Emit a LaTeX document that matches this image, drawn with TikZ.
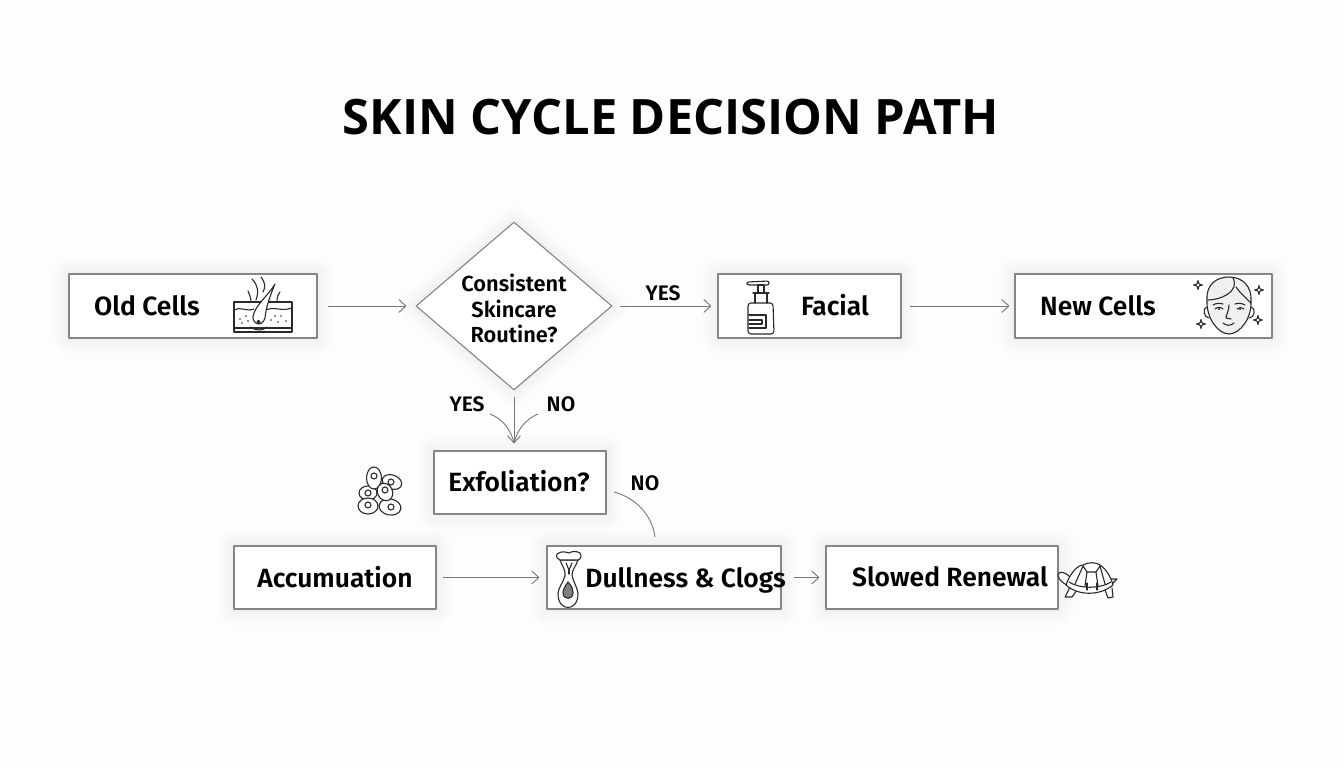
\documentclass[tikz,border=0pt]{standalone}
\usepackage{fontspec}
\usepackage{xcolor}
\usepackage{tikz}
\usetikzlibrary{arrows.meta,shapes.geometric}
\setmainfont{Fira Sans}[BoldFont={Fira Sans SemiBold}]
\newfontfamily\titlefont{Open Sans}
\definecolor{pagetint}{HTML}{FDFDFD}
\definecolor{boxline}{HTML}{858585}
\definecolor{arrowline}{HTML}{777777}
\definecolor{inkline}{HTML}{2A2A2A}
\tikzset{
    glow/.style={preaction={draw=black,opacity=0.005,line width=34pt},preaction={draw=black,opacity=0.006,line width=28pt},preaction={draw=black,opacity=0.007,line width=22pt},preaction={draw=black,opacity=0.008,line width=16pt},preaction={draw=black,opacity=0.009,line width=10pt},preaction={draw=black,opacity=0.01,line width=5pt}},
    boxnode/.style={draw=boxline,line width=1.1pt,fill=white,rectangle,minimum height=64pt,inner sep=0pt,line join=round,glow},
    decisionnode/.style={draw=boxline,line width=1.1pt,fill=white,diamond,minimum width=196pt,minimum height=168pt,inner sep=0pt,aspect=1.17,line join=round,glow},
    textnode/.style={inner sep=0pt,text height=18pt,text depth=0pt,font=\fontsize{26.4}{30}\selectfont\bfseries},
    routinetext/.style={inner sep=0pt,align=center,font=\fontsize{21.8}{25.5}\selectfont\bfseries},
    smalltext/.style={inner sep=0pt,text height=14pt,text depth=0pt,font=\fontsize{21}{24}\selectfont\bfseries},
    arr/.style={draw=arrowline,line width=0.9pt,-{Straight Barb[length=7pt,width=13pt]}},
    plainline/.style={draw=arrowline,line width=0.9pt},
    iconline/.style={draw=inkline,line width=1.1pt,line cap=round,line join=round},
    sparkle/.pic={\draw[iconline,fill=white] (0,-4.5) .. controls (0.6,-1) and (1,-0.6) .. (4.5,0) .. controls (1,0.6) and (0.6,1) .. (0,4.5) .. controls (-0.6,1) and (-1,0.6) .. (-4.5,0) .. controls (-1,-0.6) and (-0.6,-1) .. (0,-4.5) -- cycle;},
}
\begin{document}
\begin{tikzpicture}[x=1pt,y=-1pt]
    \useasboundingbox[fill=pagetint] (0,0) rectangle (1344,768);
    \node[inner sep=0pt,font=\titlefont\fontsize{48.8}{55}\selectfont\bfseries] (title) at (671,117) {SKIN CYCLE DECISION PATH};
    % boxes
    \node[boxnode,minimum width=248pt] (oldcells) at (193,306) {};
    \node[decisionnode] (routine) at (514,306) {};
    \node[boxnode,minimum width=183pt] (facial) at (809.5,306) {};
    \node[boxnode,minimum width=257pt] (newcells) at (1143.5,306) {};
    \node[boxnode,minimum width=172pt,minimum height=63pt] (exfoliation) at (520,482.5) {};
    \node[boxnode,minimum width=202pt,minimum height=63pt] (accumulation) at (335,577.5) {};
    \node[boxnode,minimum width=234pt,minimum height=63pt] (dullness) at (664,577.5) {};
    \node[boxnode,minimum width=232pt,minimum height=63pt] (renewal) at (942,577.5) {};
    % box texts
    \node[textnode] (oldtext) at (147,306) {Old Cells};
    \node[routinetext] (routinelabel) at (514,308.5) {Consistent\\Skincare\\Routine?};
    \node[textnode] (facialtext) at (835,306) {Facial};
    \node[textnode] (newtext) at (1098,306) {New Cells};
    \node[textnode] (exfoliationtext) at (519,482) {Exfoliation?};
    \node[textnode] (accumulationtext) at (335,578) {Accumuation};
    \node[textnode] (dullnesstext) at (685.5,578) {Dullness \& Clogs};
    \node[textnode] (renewaltext) at (950,577) {Slowed Renewal};
    % yes and no
    \node[smalltext] (yesright) at (663,293) {YES};
    \node[smalltext] (yesdown) at (467,404) {YES};
    \node[smalltext] (nodown) at (561,404) {NO};
    \node[smalltext] (noexfoliation) at (645,483) {NO};
    % connectors
    \coordinate (yesstart) at (490,414);
    \coordinate (nostart) at (538,414);
    \coordinate (meet) at (514,443);
    \coordinate (nostartb) at (614,492);
    \coordinate (noend) at (655,537);
    \draw[arr,shorten <=10pt,shorten >=9pt] (oldcells) -- (routine);
    \draw[arr,shorten <=7pt,shorten >=6pt] (routine) -- (facial);
    \draw[arr,shorten <=8pt,shorten >=5pt] (facial) -- (newcells);
    \draw[arr,shorten <=6pt,shorten >=7pt] (routine) -- (exfoliation.north -| routine);
    \draw[plainline] (yesstart) .. controls (503,419) and (511,430) .. (meet);
    \draw[plainline] (nostart) .. controls (526,419) and (517,430) .. (meet);
    \draw[plainline] (nostartb) .. controls (636,498) and (652,515) .. (noend);
    \draw[arr,shorten <=6pt,shorten >=7pt] (accumulation) -- (dullness);
    \draw[arr,shorten <=12pt,shorten >=6pt] (dullness) -- (renewal);
    % skin icon
    \draw[iconline] (234,302) rectangle (292,332);
    \draw[iconline] (234,328) -- (292,328);
    \draw[iconline] (234,310) .. controls (240,306) and (246,312) .. (254,309);
    \draw[iconline] (266,310) .. controls (274,306) and (282,312) .. (292,308);
    \draw[iconline] (251,302) .. controls (251,297) and (249,294) .. (248,291);
    \draw[iconline] (256,300) .. controls (259,292) and (258,285) .. (252,279);
    \draw[iconline] (263,292) .. controls (266,287) and (265,282) .. (261,277);
    \draw[iconline] (277,302) .. controls (277,297) and (278,294) .. (280,292);
    \draw[iconline,fill=white] (275,284) .. controls (268,296) and (256,304) .. (253,316) .. controls (252,324) and (262,328) .. (265,318) .. controls (266,307) and (270,296) .. (275,284) -- cycle;
    \fill[inkline] (258.5,322) circle (2pt);
    \draw[iconline] (251,327) .. controls (255,331) and (263,331) .. (267,327);
    \foreach \px/\py in {240/319,246/316,242/323,248/321,275/316,281/316,271/320,278/322,286/321}
        \fill[inkline] (\px,\py) circle (0.9pt);
    % bottle icon
    \draw[iconline,fill=white,rounded corners=3pt] (748,303) -- (773,303) -- (774,334) -- (748,334) -- cycle;
    \draw[iconline] (755,303) -- (755,293) -- (767,293) -- (767,303);
    \draw[iconline] (753,293) -- (769,293);
    \draw[iconline] (758,293) -- (758,285) -- (764,285) -- (764,293);
    \draw[iconline,rounded corners=2pt] (747,285) -- (747,282) -- (769,281) -- (769,285) -- cycle;
    \draw[iconline] (749,315) -- (766,315) -- (766,328) -- (749,328);
    \draw[iconline] (749,320) -- (762,320) -- (762,324) -- (749,324);
    % face icon
    \draw[iconline] (1207,307) .. controls (1202,308) and (1204,318) .. (1209,318);
    \draw[iconline] (1251,307) .. controls (1256,308) and (1255,318) .. (1249,318);
    \draw[iconline,fill=white!94!black] (1207,300) .. controls (1206,285) and (1216,277) .. (1229,277) .. controls (1243,277) and (1252,287) .. (1251,301) .. controls (1252,318) and (1240,334) .. (1229,334) .. controls (1218,334) and (1206,318) .. (1207,300) -- cycle;
    \draw[iconline] (1208,300) .. controls (1220,300) and (1240,292) .. (1233,278);
    \draw[iconline] (1236,287) .. controls (1240,293) and (1246,298) .. (1251,303);
    \draw[iconline] (1213,305) .. controls (1216,303) and (1220,303) .. (1223,304);
    \draw[iconline] (1235,304) .. controls (1238,303) and (1242,303) .. (1245,305);
    \draw[iconline] (1215,309) .. controls (1217,307) and (1221,307) .. (1223,309);
    \draw[iconline] (1237,309) .. controls (1239,307) and (1242,307) .. (1244,309);
    \fill[inkline] (1219,309) circle (1.2pt);
    \fill[inkline] (1240,309) circle (1.2pt);
    \draw[iconline] (1229,305) .. controls (1229,311) and (1226,315) .. (1226,318) -- (1231,319);
    \draw[iconline] (1223,323) .. controls (1226,326) and (1231,326) .. (1234,323);
    \pic at (1198,285) {sparkle};
    \pic at (1259,290) {sparkle};
    \pic at (1201,324) {sparkle};
    \pic at (1258,320) {sparkle};
    % cells icon
    \draw[iconline,fill=white] (392,482) ellipse [x radius=10pt,y radius=7pt,rotate=-20];
    \draw[iconline,fill=white] (368,493) ellipse [x radius=9pt,y radius=7pt];
    \draw[iconline,fill=white] (374,478) ellipse [x radius=7.5pt,y radius=11pt];
    \draw[iconline,fill=white] (368,506) ellipse [x radius=10pt,y radius=8pt];
    \draw[iconline,fill=white] (390,507) ellipse [x radius=11pt,y radius=8pt,rotate=-10];
    \draw[iconline,fill=white] (385,492) ellipse [x radius=7.5pt,y radius=9pt,rotate=25];
    \foreach \px/\py in {374/476,391/482,368/493,385/490,368/505,391/507}
        \draw[iconline] (\px,\py) circle (3pt);
    % clog icon
    \draw[iconline,fill=white] (560,560) .. controls (562,566) and (566,570) .. (565,576) .. controls (563,583) and (558,588) .. (558,594) .. controls (558,612) and (578,612) .. (578,594) .. controls (578,588) and (573,582) .. (572,575) .. controls (572,570) and (576,566) .. (578,560) -- cycle;
    \draw[iconline,fill=white] (560,560) .. controls (555,558) and (556,553) .. (559,553) .. controls (562,551) and (566,552) .. (569,553) .. controls (572,551) and (577,551) .. (580,553) .. controls (582,556) and (581,559) .. (578,560) -- cycle;
    \draw[iconline] (566,563) -- (569,570) -- (572,563);
    \draw[iconline] (569,570) -- (569,574);
    \draw[iconline,fill=inkline!60] (568,582) .. controls (572,586) and (573,590) .. (573,593) .. controls (573,600) and (563,600) .. (563,593) .. controls (563,590) and (565,586) .. (568,582) -- cycle;
    % turtle icon
    \draw[iconline,fill=white] (1070,587) -- (1065,597) -- (1072,597) -- (1077,590);
    \draw[iconline,fill=white] (1105,590) -- (1108,598) -- (1113,597) -- (1112,588);
    \draw[iconline,fill=white] (1110,579) -- (1117,579) -- (1111,585);
    \draw[iconline,fill=white] (1070,586) .. controls (1064,585) and (1058,579) .. (1058,575) .. controls (1059,571) and (1064,571) .. (1070,577);
    \draw[iconline,fill=white] (1066,585) .. controls (1070,573) and (1078,565) .. (1083,565) .. controls (1088,562) and (1096,562) .. (1100,565) .. controls (1106,569) and (1111,577) .. (1113,585) .. controls (1100,596) and (1078,596) .. (1066,585) -- cycle;
    \draw[iconline] (1069,582) .. controls (1080,589) and (1100,589) .. (1111,582);
    \draw[iconline] (1083,566) -- (1087,572) -- (1096,572) -- (1100,566);
    \draw[iconline] (1083,566) -- (1075,584);
    \draw[iconline] (1100,566) -- (1105,584);
    \draw[iconline] (1087,572) -- (1085,586);
    \draw[iconline] (1096,572) -- (1098,586);
    \draw[iconline] (1087,583) -- (1087,590);
    \draw[iconline] (1097,583) -- (1097,590);
\end{tikzpicture}
\end{document}
